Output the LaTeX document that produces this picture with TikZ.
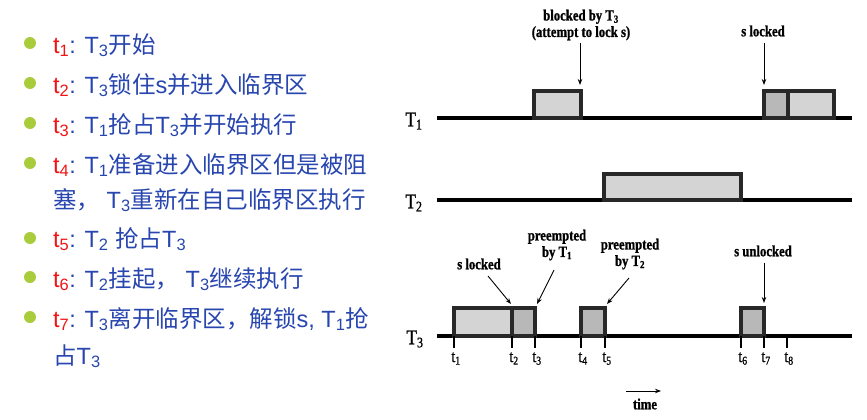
\documentclass[tikz,border=0pt]{standalone}
\usepackage{fontspec}
\setmainfont{Liberation Sans}
\newfontfamily\cjk{Noto Sans CJK SC}
\newfontfamily\diag[FakeStretch=0.82,FakeBold=1.0]{Liberation Serif}
\usetikzlibrary{arrows.meta}
\definecolor{txtblue}{RGB}{40,70,175}
\definecolor{txtred}{RGB}{240,20,20}
\definecolor{bulgreen}{RGB}{168,204,60}
\definecolor{lightfill}{RGB}{212,212,212}
\definecolor{darkfill}{RGB}{184,184,184}
\definecolor{boxline}{RGB}{40,40,40}
\newcommand{\ti}[1]{\textcolor{txtred}{t\textsubscript{#1}}}
\newcommand{\Tn}[1]{T\textsubscript{#1}}
\begin{document}
\begin{tikzpicture}[x=1pt,y=-1pt,
  bullet/.style={circle,fill=bulgreen,inner sep=0pt,minimum size=12pt},
  item/.style={anchor=base west,inner sep=0pt,text=txtblue,font=\fontsize{23.5}{26}\selectfont},
  timeline/.style={line width=3.4pt,black},
  lightbox/.style={fill=lightfill,draw=boxline,line width=3.2pt},
  darkbox/.style={fill=darkfill,draw=boxline,line width=3.2pt},
  tick/.style={line width=1.6pt},
  tname/.style={font=\diag\fontsize{21}{22}\selectfont,inner sep=0pt},
  tlab/.style={font=\diag\fontsize{17}{18}\selectfont,inner sep=0pt,anchor=base},
  note/.style={font=\diag\bfseries\fontsize{15.5}{16.5}\selectfont,inner sep=0pt,align=center},
  pointer/.style={-{Stealth[length=6pt,width=4.5pt]},line width=0.9pt}
]
\useasboundingbox (0,0) rectangle (867,420);
\fill[white] (0,0) rectangle (867,420);

% ---------- left list ----------
\foreach \n/\y in {b1/43,b2/83,b3/123,b4/163,b5/238,b6/277,b7/317}
  \node[bullet] (\n) at (30,\y) {};
\node[item] (i1) at (53,53) {\ti{1}: \Tn{3}{\cjk 开始}};
\node[item] (i2) at (53,93) {\ti{2}: \Tn{3}{\cjk 锁住}s{\cjk 并进入临界区}};
\node[item] (i3) at (53,133) {\ti{3}: \Tn{1}{\cjk 抢占}\Tn{3}{\cjk 并开始执行}};
\node[item] (i4) at (53,173) {\ti{4}: \Tn{1}{\cjk 准备进入临界区但是被阻}};
\node[item] (i4b) at (53,208) {{\cjk 塞，} \Tn{3}{\cjk 重新在自己临界区执行}};
\node[item] (i5) at (53,247) {\ti{5}: \Tn{2} {\cjk 抢占}\Tn{3}};
\node[item] (i6) at (53,287) {\ti{6}: \Tn{2}{\cjk 挂起，} \Tn{3}{\cjk 继续执行}};
\node[item] (i7) at (53,327) {\ti{7}: \Tn{3}{\cjk 离开临界区，解锁}s, \Tn{1}{\cjk 抢}};
\node[item] (i7b) at (53,364) {{\cjk 占}\Tn{3}};

% ---------- timelines ----------
\node[tname] (T1) at (414,121) {\Tn{1}};
\node[tname] (T2) at (414,203) {\Tn{2}};
\node[tname] (T3) at (415,339) {\Tn{3}};
\coordinate (l1s) at (437,118); \coordinate (l1e) at (852,118);
\coordinate (l2s) at (437,200); \coordinate (l2e) at (852,200);
\coordinate (l3s) at (437,336); \coordinate (l3e) at (852,336);
\draw[timeline] (l1s) -- (l1e);
\draw[timeline] (l2s) -- (l2e);
\draw[timeline] (l3s) -- (l3e);

% T1 boxes
\draw[lightbox] (534,118) rectangle (581,91);
\draw[darkbox] (764,118) rectangle (788,91);
\draw[lightbox] (788,118) rectangle (834,91);
% T2 box
\draw[lightbox] (604,200) rectangle (741,174);
% T3 boxes
\draw[lightbox] (454,336) rectangle (512,308);
\draw[darkbox] (512,336) rectangle (535,308);
\draw[darkbox] (581,336) rectangle (605,308);
\draw[darkbox] (741,336) rectangle (764,308);

% ticks and labels
\foreach \x/\i [count=\k] in {454/1,512/2,535/3,581/4,605/5,741/6,764/7,787/8}{
  \coordinate (k\k) at (\x,348);
  \draw[tick] (\x,336) -- (k\k);
  \node[tlab] (t\k) at (\x+2,362) {t\textsubscript{\i}};
}

% annotations T1
\node[note] (n1) at (581,25) {blocked by \Tn{3}\\(attempt to lock s)};
\coordinate (p1) at (580,85);
\draw[pointer] (580,43) -- (p1);
\node[note] (n2) at (763,31) {s locked};
\coordinate (p2) at (764,85);
\draw[pointer] (764,43) -- (p2);

% annotations T3
\node[note] (n3) at (479,264) {s locked};
\coordinate (p3) at (511,304);
\draw[pointer] (488,276) -- (p3);
\node[note] (n4) at (557,245) {preempted\\by \Tn{1}};
\coordinate (p4) at (537,304);
\draw[pointer] (554,270) -- (p4);
\node[note] (n5) at (630,254) {preempted\\by \Tn{2}};
\coordinate (p5) at (607,304);
\draw[pointer] (629,278) -- (p5);
\node[note] (n6) at (763,251) {s unlocked};
\coordinate (p6) at (764,303);
\draw[pointer] (764,263) -- (p6);

% time arrow
\coordinate (ta) at (626,391);
\coordinate (tb) at (661,391);
\draw[pointer] (ta) -- (tb);
\node[note] (time) at (645,404) {time};
\end{tikzpicture}
\end{document}
